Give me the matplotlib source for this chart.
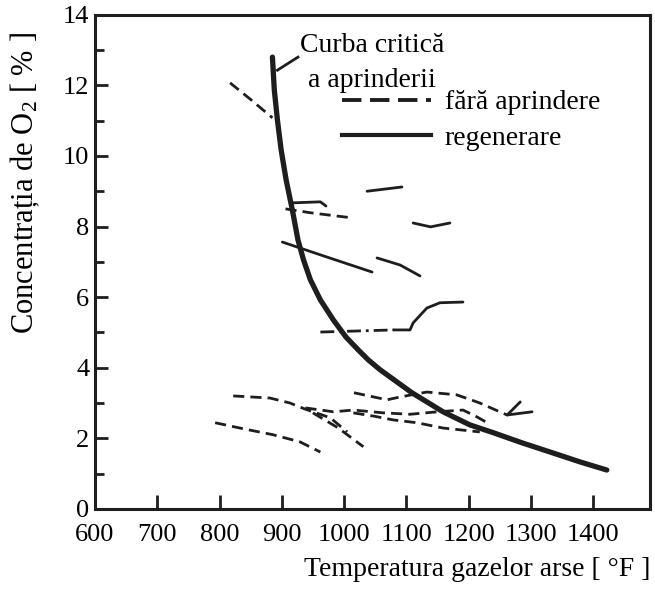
import matplotlib
matplotlib.use("Agg")
import matplotlib.pyplot as plt
from matplotlib.lines import Line2D
from matplotlib.ticker import MultipleLocator

plt.rcParams["font.family"] = ["Liberation Serif", "DejaVu Serif"]
plt.rcParams["mathtext.fontset"] = "custom"
plt.rcParams["mathtext.rm"] = "Liberation Serif"
plt.rcParams["mathtext.it"] = "Liberation Serif:italic"

INK = "#1e1e1e"

# critical ignition curve (temperature [F], O2 [%])
crit_t = [885, 888, 893, 899, 907, 917, 926, 935, 946, 962, 983, 1003, 1023,
          1039, 1058, 1109, 1159, 1202, 1241, 1286, 1331, 1379, 1422]
crit_o2 = [12.80, 11.87, 11.02, 10.17, 9.32, 8.47, 7.62, 7.05, 6.49, 5.92, 5.35, 4.87, 4.50,
           4.22, 3.94, 3.29, 2.75, 2.38, 2.15, 1.87, 1.61, 1.33, 1.10]

# annotation leader from the curve to the label
lead_t = [893, 926]
lead_o2 = [12.43, 12.8]

# runs without ignition (dashed)
nf1_t = [817, 850, 885]
nf1_o2 = [12.07, 11.6, 11.08]
nf2_t = [906, 946, 1015]
nf2_o2 = [8.50, 8.39, 8.24]
nf3_t = [793, 838, 886, 929, 962]
nf3_o2 = [2.44, 2.27, 2.10, 1.90, 1.61]
nf4_t = [822, 881, 913, 937, 978, 1005]
nf4_o2 = [3.20, 3.14, 3.00, 2.83, 2.58, 2.18]
nf5_t = [1016, 1069, 1090, 1133, 1181, 1218, 1250, 1262]
nf5_o2 = [3.29, 3.09, 3.17, 3.31, 3.23, 3.00, 2.75, 2.66]
nf6_t = [938, 983, 1015, 1063, 1106, 1150, 1191, 1213, 1230]
nf6_o2 = [2.86, 2.75, 2.80, 2.72, 2.68, 2.75, 2.80, 2.61, 2.44]
nf7_t = [1015, 1050, 1079, 1117, 1159, 1218]
nf7_o2 = [2.72, 2.62, 2.52, 2.44, 2.29, 2.18]
nf8_t = [950, 990, 1031]
nf8_o2 = [2.72, 2.30, 1.76]

# regeneration runs (solid)
rg1_t = [917, 962, 971]
rg1_o2 = [8.67, 8.70, 8.58]
rg2_t = [1037, 1093]
rg2_o2 = [9.00, 9.12]
rg3_t = [1111, 1139, 1170]
rg3_o2 = [8.10, 7.99, 8.10]
rg4_t = [901, 970, 1045]
rg4_o2 = [7.56, 7.15, 6.71]
rg5_t = [1053, 1090, 1122]
rg5_o2 = [7.11, 6.91, 6.60]
rg6_t = [1080, 1106, 1111, 1133, 1154, 1191]
rg6_o2 = [5.07, 5.07, 5.27, 5.69, 5.84, 5.86]
fork_a_t = [1262, 1283]
fork_a_o2 = [2.66, 3.03]
fork_b_t = [1262, 1302]
fork_b_o2 = [2.66, 2.75]

# dash-dot lead-in of the step run
dd_t = [962, 1080]
dd_o2 = [5.01, 5.07]

x_ticks = [600, 700, 800, 900, 1000, 1100, 1200, 1300, 1400]

fig = plt.figure(figsize=(6.55, 5.91), dpi=100)
ax = fig.add_axes([0.145, 0.139, 0.847, 0.836])

dash = (0, (4.0, 2.2))
for t, o in [(nf1_t, nf1_o2), (nf2_t, nf2_o2), (nf3_t, nf3_o2), (nf4_t, nf4_o2),
             (nf5_t, nf5_o2), (nf6_t, nf6_o2), (nf7_t, nf7_o2), (nf8_t, nf8_o2)]:
    ax.plot(t, o, color=INK, lw=2.0, linestyle=dash)

for t, o in [(rg1_t, rg1_o2), (rg2_t, rg2_o2), (rg3_t, rg3_o2), (rg4_t, rg4_o2),
             (rg5_t, rg5_o2), (rg6_t, rg6_o2), (fork_a_t, fork_a_o2),
             (fork_b_t, fork_b_o2)]:
    ax.plot(t, o, color=INK, lw=2.0, solid_capstyle="round")

ax.plot(dd_t, dd_o2, color=INK, lw=2.0, linestyle=(0, (5, 1.8, 1, 1.8)))

ax.plot(crit_t, crit_o2, color=INK, lw=3.8, solid_capstyle="round",
        solid_joinstyle="round")
ax.plot(lead_t, lead_o2, color=INK, lw=2.0)

ax.text(1045, 13.14, "Curba critică", ha="center", va="center", fontsize=20)
ax.text(1045, 12.15, "a aprinderii", ha="center", va="center", fontsize=20)

handles = [
    Line2D([], [], color=INK, lw=2.8, linestyle=(0, (5.0, 2.2))),
    Line2D([], [], color=INK, lw=3.0),
]
ax.legend(handles, ["fără aprindere", "regenerare"], loc="upper left",
          bbox_to_anchor=(0.445, 0.848), frameon=False, fontsize=20,
          handlelength=3.2, handletextpad=0.5, borderpad=0,
          borderaxespad=0, labelspacing=0.37)

ax.set_xlim(600, 1491)
ax.set_ylim(0, 14)
ax.set_xticks(x_ticks)
ax.yaxis.set_major_locator(MultipleLocator(2))
ax.yaxis.set_minor_locator(MultipleLocator(1))

ax.tick_params(axis="both", which="both", direction="in", colors=INK,
               labelcolor="black", labelsize=19, width=2.0)
ax.tick_params(axis="y", which="major", length=9, pad=4)
ax.tick_params(axis="y", which="minor", length=6.5)
ax.tick_params(axis="x", which="major", length=10, pad=11)
ax.xaxis.get_major_ticks()[0].tick1line.set_visible(False)

for side in ["left", "bottom", "right", "top"]:
    ax.spines[side].set_linewidth(2.2)
    ax.spines[side].set_color(INK)

fig.text(0.993, 1 - 570 / 591, "Temperatura gazelor arse [ °F ]",
         ha="right", va="center", fontsize=20)
fig.text(25 / 655, 1 - 183 / 591, "Concentrația de O$_\\mathrm{2}$ [ % ]",
         ha="center", va="center", rotation=90, fontsize=22)

fig.savefig("out.png", dpi=100)
